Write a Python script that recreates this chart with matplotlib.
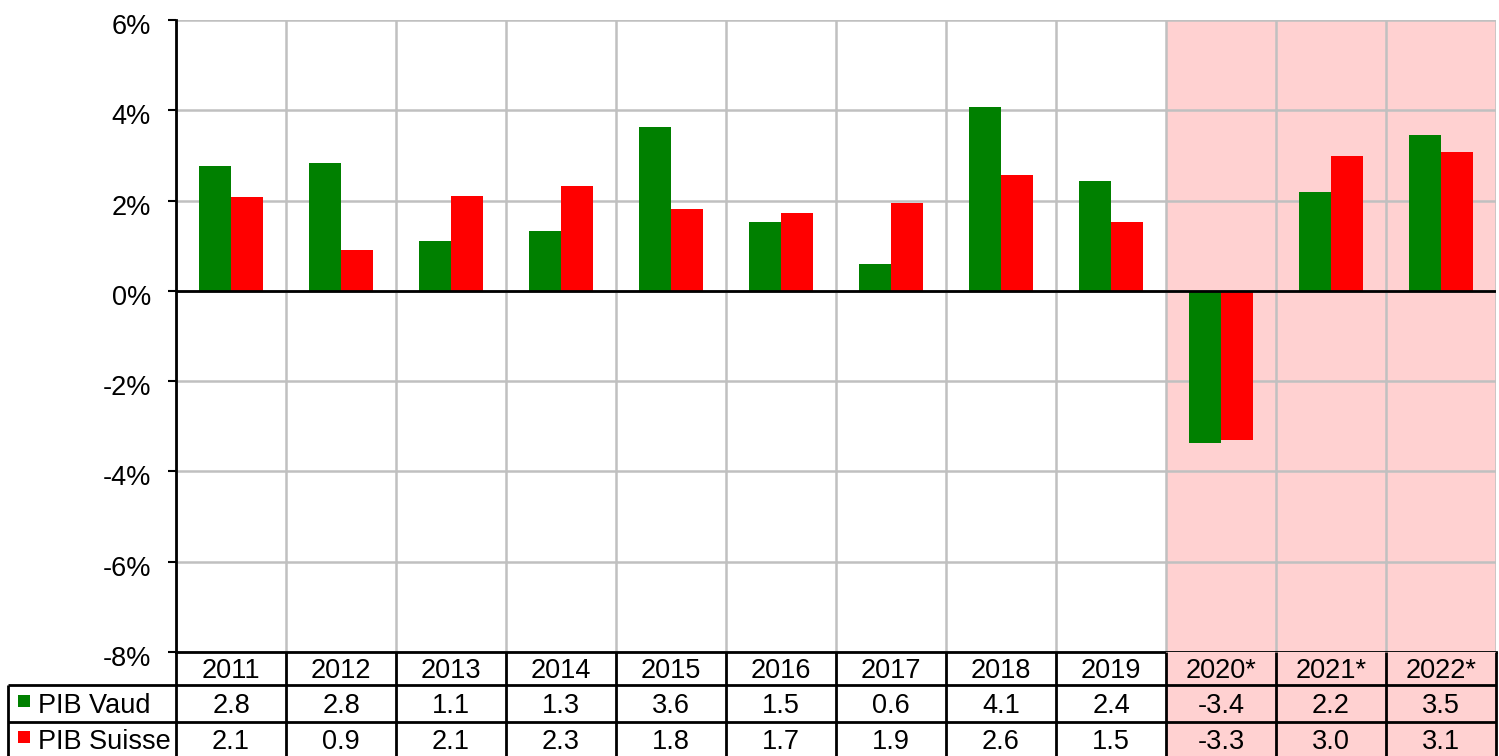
import numpy as np
import matplotlib
matplotlib.use("Agg")
import matplotlib.pyplot as plt
import matplotlib.transforms as mtransforms
from matplotlib.patches import Rectangle

plt.rcParams['font.family'] = ['Liberation Sans', 'DejaVu Sans']
plt.rcParams['font.size'] = 19.5

# --- data (growth of GDP, %) ---
years = ["2011", "2012", "2013", "2014", "2015", "2016", "2017", "2018", "2019",
         "2020*", "2021*", "2022*"]
pib_vaud = [2.76, 2.84, 1.11, 1.33, 3.63, 1.53, 0.60, 4.08, 2.44, -3.36, 2.19, 3.46]
pib_suisse = [2.08, 0.91, 2.10, 2.33, 1.82, 1.73, 1.94, 2.57, 1.53, -3.30, 2.99, 3.08]
forecast_from = 9  # index of first estimated year
series_names = ["PIB Vaud", "PIB Suisse"]

GREEN = "#008000"
RED = "#ff0000"
PINK = "#ffd1d1"
GRID = "#c0c0c0"

W, H = 1499, 756
fig = plt.figure(figsize=(W / 100, H / 100), dpi=100)

# --- main chart ---
ax = fig.add_axes([176 / W, 104 / H, 1320 / W, 632 / H])
n = len(years)
x = np.arange(n)
ax.set_xlim(-0.5, n - 0.5)
ax.set_ylim(-8, 6)
ax.axvspan(forecast_from - 0.5, n - 0.5, color=PINK, lw=0, zorder=0)

ax.set_yticks(range(-8, 7, 2))
ax.set_yticklabels([f"{v}%" for v in range(-8, 7, 2)])
ax.set_xticks([])
ax.set_xticks(np.arange(-0.5, n, 1), minor=True)
ax.tick_params(axis='x', which='both', length=0, labelbottom=False)
ax.tick_params(axis='y', length=6, width=1.5, pad=12, color='black')
# Excel puts the labels a touch below the tick
shift = mtransforms.ScaledTranslation(0, -4 / 100, fig.dpi_scale_trans)
for lab in ax.get_yticklabels():
    lab.set_transform(lab.get_transform() + shift)
ax.grid(True, axis='y', color=GRID, lw=1.8, zorder=1)
ax.grid(True, axis='x', which='minor', color=GRID, lw=1.8, zorder=1)
ax.set_axisbelow(True)

w = 0.29
ax.bar(x - w / 2, pib_vaud, w, color=GREEN, lw=0, zorder=3)
ax.bar(x + w / 2, pib_suisse, w, color=RED, lw=0, zorder=3)
ax.axhline(0, color='black', lw=2, zorder=4)

for s in ['top', 'right']:
    ax.spines[s].set_visible(False)
ax.spines['left'].set_linewidth(2)
ax.spines['bottom'].set_linewidth(2)

# --- data table below ---
tax = fig.add_axes([8 / W, 0, 1488 / W, 104 / H])
L = -0.5 - 168 / 110
tax.set_xlim(L, n - 0.5)
tax.set_ylim(104, 0)
tax.axis('off')
rows = [0, 33, 70, 104]
centers = [19, 54, 90]

for i in range(forecast_from, n):
    tax.add_patch(Rectangle((i - 0.5, 0), 1, 104, color=PINK, lw=0, zorder=0))

tax.hlines([rows[1], rows[2]], L, n - 0.5, color='black', lw=2, clip_on=False)
tax.vlines(np.arange(-0.5, n, 1), 0, 104, color='black', lw=2, clip_on=False)
tax.vlines(L, rows[1], 104, color='black', lw=2, clip_on=False)

for i in range(n):
    tax.text(i, centers[0], years[i], ha='center', va='center')
    tax.text(i, centers[1], f"{pib_vaud[i]:.1f}", ha='center', va='center')
    tax.text(i, centers[2], f"{pib_suisse[i]:.1f}", ha='center', va='center')

for name, col, cy in zip(series_names, [GREEN, RED], centers[1:]):
    tax.plot(L + 16 / 110, cy - 5, marker='s', ms=8, color=col, mew=0)
    tax.text(L + 30 / 110, cy, name, ha='left', va='center')

fig.savefig("out.png", dpi=100)
